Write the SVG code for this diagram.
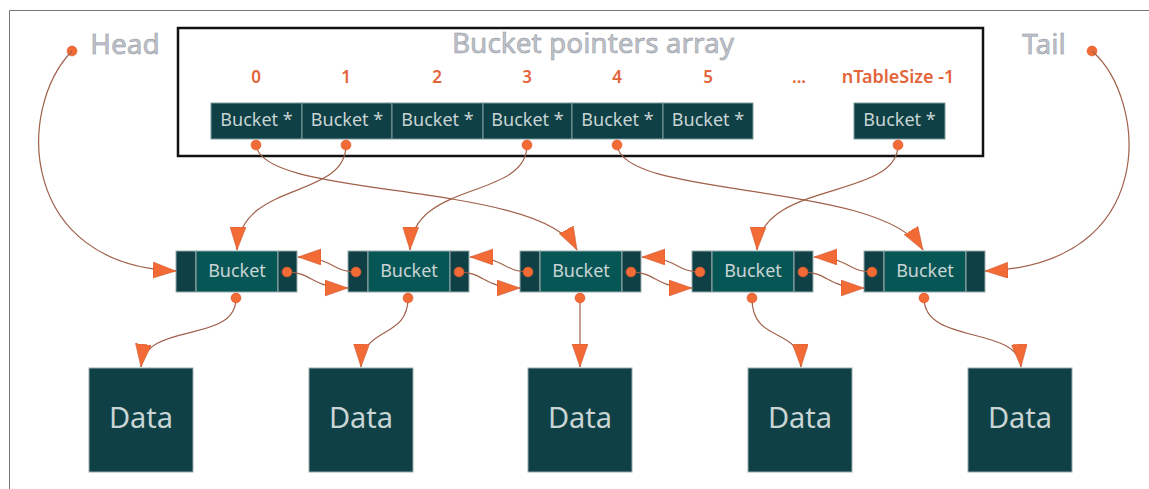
<svg xmlns="http://www.w3.org/2000/svg" width="1149" height="489" viewBox="0 0 1149 489">
<defs>
<style>
.frame{fill:none;stroke:#777;stroke-width:1}
.arr{fill:none;stroke:#111;stroke-width:2.5}
.cell{fill:#0e4045;stroke:#7f9c9c;stroke-width:1}
.side{fill:#0e4045;stroke:#9aabab;stroke-width:1}
.mid{fill:#075656;stroke:#9aabab;stroke-width:1}
.data{fill:#0e4045;stroke:#9aabab;stroke-width:1}
.ct{font-family:"Noto Sans","Open Sans",sans-serif;font-size:18px;fill:#c9d4d4;text-anchor:middle}
.dt{font-family:"Noto Sans","Open Sans",sans-serif;font-size:29px;fill:#c9d4d4;text-anchor:middle}
.idx{font-family:"Noto Sans","Open Sans",sans-serif;font-size:17px;font-weight:600;fill:#e3653c;text-anchor:middle}
.big{font-family:"Noto Sans","Open Sans",sans-serif;font-size:28px;fill:#bfc3ca;stroke:#8d939c;stroke-width:0.5}
.dot{fill:#f26a35;stroke:#d9552a;stroke-width:0.5}
.link{fill:none;stroke:#a0604a;stroke-width:1.2}
</style>
<marker id="ah" markerUnits="userSpaceOnUse" markerWidth="25" markerHeight="18" refX="23" refY="8" orient="auto">
<path d="M0,0 L23,8 L0,16 z" fill="#f26a35" stroke="#c9552e" stroke-width="0.5"/>
</marker>
</defs>
<rect x="0" y="0" width="1149" height="489" fill="#fff"/>
<path class="frame" d="M9.5,489 L9.5,10.5 L1149,10.5"/>

<g id="labels">
<text class="big" x="125" y="54" text-anchor="middle">Head</text>
<text class="big" x="1044" y="54" text-anchor="middle">Tail</text>
<circle class="dot" cx="72" cy="51" r="5"/>
<circle class="dot" cx="1092" cy="51" r="5"/>
</g>

<g id="array">
<rect class="arr" x="178" y="28" width="805" height="128"/>
<text class="big" x="593" y="53" text-anchor="middle">Bucket pointers array</text>
<text class="idx" x="256" y="83">0</text>
<text class="idx" x="346" y="83">1</text>
<text class="idx" x="437" y="83">2</text>
<text class="idx" x="527" y="83">3</text>
<text class="idx" x="617" y="83">4</text>
<text class="idx" x="708" y="83">5</text>
<text class="idx" x="799" y="83">...</text>
<text class="idx" x="898" y="83" style="font-size:18px">nTableSize -1</text>
<g id="cell0"><rect class="cell" x="211" y="103" width="91" height="36"/><text class="ct" x="256.5" y="126">Bucket *</text></g>
<g id="cell1"><rect class="cell" x="302" y="103" width="90" height="36"/><text class="ct" x="347" y="126">Bucket *</text></g>
<g id="cell2"><rect class="cell" x="392" y="103" width="91" height="36"/><text class="ct" x="437.5" y="126">Bucket *</text></g>
<g id="cell3"><rect class="cell" x="483" y="103" width="89" height="36"/><text class="ct" x="527.5" y="126">Bucket *</text></g>
<g id="cell4"><rect class="cell" x="572" y="103" width="91" height="36"/><text class="ct" x="617.5" y="126">Bucket *</text></g>
<g id="cell5"><rect class="cell" x="663" y="103" width="90" height="36"/><text class="ct" x="708" y="126">Bucket *</text></g>
<g id="cellN"><rect class="cell" x="854" y="103" width="91" height="36"/><text class="ct" x="899.5" y="126">Bucket *</text></g>
</g>

<g id="bucket1"><rect class="side" x="176" y="251" width="20" height="41"/><rect class="mid" x="196" y="251" width="82" height="41"/><rect class="side" x="278" y="251" width="19" height="41"/><text class="ct" x="237" y="277">Bucket</text></g>
<g id="bucket2"><rect class="side" x="348" y="251" width="20" height="41"/><rect class="mid" x="368" y="251" width="82" height="41"/><rect class="side" x="450" y="251" width="19" height="41"/><text class="ct" x="409" y="277">Bucket</text></g>
<g id="bucket3"><rect class="side" x="520" y="251" width="20" height="41"/><rect class="mid" x="540" y="251" width="82" height="41"/><rect class="side" x="622" y="251" width="19" height="41"/><text class="ct" x="581" y="277">Bucket</text></g>
<g id="bucket4"><rect class="side" x="692" y="251" width="20" height="41"/><rect class="mid" x="712" y="251" width="82" height="41"/><rect class="side" x="794" y="251" width="19" height="41"/><text class="ct" x="753" y="277">Bucket</text></g>
<g id="bucket5"><rect class="side" x="864" y="251" width="20" height="41"/><rect class="mid" x="884" y="251" width="82" height="41"/><rect class="side" x="966" y="251" width="19" height="41"/><text class="ct" x="925" y="277">Bucket</text></g>

<g id="data1"><rect class="data" x="89" y="368" width="104" height="104"/><text class="dt" x="141" y="428">Data</text></g>
<g id="data2"><rect class="data" x="309" y="368" width="104" height="104"/><text class="dt" x="361" y="428">Data</text></g>
<g id="data3"><rect class="data" x="528" y="368" width="104" height="104"/><text class="dt" x="580" y="428">Data</text></g>
<g id="data4"><rect class="data" x="748" y="368" width="104" height="104"/><text class="dt" x="800" y="428">Data</text></g>
<g id="data5"><rect class="data" x="968" y="368" width="104" height="104"/><text class="dt" x="1020" y="428">Data</text></g>

<g id="connectors">
<path class="link" marker-end="url(#ah)" d="M72,51 C15,110 20,265 176,271"/>
<path class="link" marker-end="url(#ah)" d="M1092,51 C1148,100 1160,265 985,271"/>
<path class="link" marker-end="url(#ah)" d="M256,145 C262,200 540,180 577,250"/>
<path class="link" marker-end="url(#ah)" d="M346,145 C346,200 240,180 237,250"/>
<path class="link" marker-end="url(#ah)" d="M527,145 C527,200 412,180 410,250"/>
<path class="link" marker-end="url(#ah)" d="M617,145 C623,200 880,180 923,250"/>
<path class="link" marker-end="url(#ah)" d="M898,145 C898,200 760,180 757,250"/>
<path class="link" marker-end="url(#ah)" d="M287,272 C312,272 312,288 348,288"/>
<path class="link" marker-end="url(#ah)" d="M356,272 C332,272 332,257 298,257"/>
<path class="link" marker-end="url(#ah)" d="M459,272 C484,272 484,288 520,288"/>
<path class="link" marker-end="url(#ah)" d="M528,272 C504,272 504,257 470,257"/>
<path class="link" marker-end="url(#ah)" d="M631,272 C656,272 656,288 692,288"/>
<path class="link" marker-end="url(#ah)" d="M700,272 C676,272 676,257 642,257"/>
<path class="link" marker-end="url(#ah)" d="M803,272 C828,272 828,288 864,288"/>
<path class="link" marker-end="url(#ah)" d="M872,272 C848,272 848,257 814,257"/>
<path class="link" marker-end="url(#ah)" d="M236,298 C236,345 146,320 141,367"/>
<path class="link" marker-end="url(#ah)" d="M408,298 C408,340 362,325 361,367"/>
<path class="link" marker-end="url(#ah)" d="M580,298 L580,367"/>
<path class="link" marker-end="url(#ah)" d="M752,298 C752,345 800,325 801,367"/>
<path class="link" marker-end="url(#ah)" d="M924,298 C924,345 1018,325 1021,367"/>
<circle class="dot" cx="256" cy="145" r="5"/>
<circle class="dot" cx="346" cy="145" r="5"/>
<circle class="dot" cx="527" cy="145" r="5"/>
<circle class="dot" cx="617" cy="145" r="5"/>
<circle class="dot" cx="898" cy="145" r="5"/>
<circle class="dot" cx="287" cy="272" r="5"/>
<circle class="dot" cx="356" cy="272" r="5"/>
<circle class="dot" cx="459" cy="272" r="5"/>
<circle class="dot" cx="528" cy="272" r="5"/>
<circle class="dot" cx="631" cy="272" r="5"/>
<circle class="dot" cx="700" cy="272" r="5"/>
<circle class="dot" cx="803" cy="272" r="5"/>
<circle class="dot" cx="872" cy="272" r="5"/>
<circle class="dot" cx="236" cy="298" r="5"/>
<circle class="dot" cx="408" cy="298" r="5"/>
<circle class="dot" cx="580" cy="298" r="5"/>
<circle class="dot" cx="752" cy="298" r="5"/>
<circle class="dot" cx="924" cy="298" r="5"/>
</g>
</svg>
